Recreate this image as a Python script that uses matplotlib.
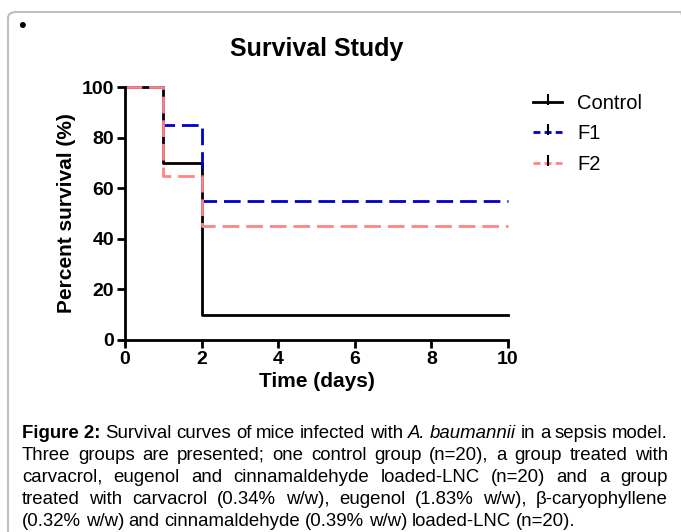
import matplotlib
matplotlib.use("Agg")
import matplotlib.pyplot as plt
from matplotlib.lines import Line2D
from matplotlib.patches import FancyBboxPatch
from matplotlib.path import Path

# survival data (step curves, % alive)
days = [0, 1, 2, 10]
control = [100, 70, 10, 10]
f1 = [100, 85, 55, 55]
f2 = [100, 65, 45, 45]
groups = ["Control", "F1", "F2"]
xticks = [0, 2, 4, 6, 8, 10]
yticks = [0, 20, 40, 60, 80, 100]

caption = [
    [("Figure 2:", "b"), ("Survival", "n"), ("curves", "n"), ("of", "n"), ("mice", "n"), ("infected", "n"),
     ("with", "n"), ("A.", "i"), ("baumannii", "i"), ("in", "n"), ("a", "n"), ("sepsis", "n"), ("model.", "n")],
    "Three groups are presented; one control group (n=20), a group treated with",
    "carvacrol, eugenol and cinnamaldehyde loaded-LNC (n=20) and a group",
    "treated with carvacrol (0.34% w/w), eugenol (1.83% w/w), \u03b2-caryophyllene",
    "(0.32% w/w) and cinnamaldehyde (0.39% w/w) loaded-LNC (n=20).",
]

plt.rcParams['font.family'] = ['Liberation Sans', 'DejaVu Sans']

W, H = 681, 532
fig = plt.figure(figsize=(W/100, H/100), dpi=100)

# frame around the figure
box = FancyBboxPatch((8/W, -0.05), 1.0, 1.05 - 12/H, boxstyle="round,pad=0,rounding_size=0.012",
                     transform=fig.transFigure, fill=False, edgecolor="#c0c0c0", linewidth=1.5)
fig.patches.append(box)
fig.text(18/W, 1-27/H, "\u2022", fontsize=16, va="center", ha="left")

ax = fig.add_axes([125/W, 1-340/H, (508-125)/W, (340-87)/H])
dash = (0, (6, 2.5))
ax.step(days, control, where="post", color="black", lw=2, label="Control", clip_on=False)
ax.step(days, f1, where="post", color="#0000c8", lw=2, ls=dash, label="F1", clip_on=False)
ax.step(days, f2, where="post", color="#ff8484", lw=2, ls=dash, label="F2", clip_on=False)

ax.set_xlim(0, 10)
ax.set_ylim(0, 100)
ax.set_xticks(xticks)
ax.set_yticks(yticks)
for s in ["top", "right"]:
    ax.spines[s].set_visible(False)
for s in ["left", "bottom"]:
    ax.spines[s].set_linewidth(2)
ax.tick_params(width=2, length=6, labelsize=14, pad=2)
for lbl in ax.get_xticklabels() + ax.get_yticklabels():
    lbl.set_fontweight("bold")
ax.set_title("Survival Study", fontsize=18, fontweight="bold", pad=22)
ax.set_xlabel("Time (days)", fontsize=15, fontweight="bold", labelpad=3)
ax.set_ylabel("Percent survival (%)", fontsize=15, fontweight="bold", labelpad=4)

# censor-tick style marker: short vertical stroke, mostly above the line
tick = Path([(0, -0.3), (0, 1)], [Path.MOVETO, Path.LINETO])
handles = [
    Line2D([], [], color="black", lw=2, marker=tick, ms=12, mec="black", mew=1.5),
    Line2D([], [], color="#0000c8", lw=2, ls=(0, (2.5, 1.5)), marker=tick, ms=12, mec="black", mew=1.5),
    Line2D([], [], color="#ff8484", lw=2, ls=(0, (2.5, 1.5)), marker=tick, ms=12, mec="black", mew=1.5),
]
ax.legend(handles, groups, loc="upper left", bbox_to_anchor=(533/W, 1-94/H), bbox_transform=fig.transFigure,
          frameon=False, fontsize=14.5, handlelength=1.45, handletextpad=0.75, labelspacing=0.57,
          borderpad=0, borderaxespad=0)

# justified caption
renderer = fig.canvas.get_renderer()
cap_font = ['Liberation Sans Narrow', 'Liberation Sans', 'DejaVu Sans']
cap_size = 13.4
x0, x1 = 22, 668
y = 433
for i, line in enumerate(caption):
    if isinstance(line, str):
        words = [(w, "n") for w in line.split()]
    else:
        words = line
    texts = []
    for w, st in words:
        t = fig.text(0, 0, w, fontsize=cap_size, family=cap_font,
                     fontweight="bold" if st == "b" else "normal",
                     fontstyle="italic" if st == "i" else "normal", va="center", ha="left")
        texts.append(t)
    widths = [t.get_window_extent(renderer).width for t in texts]
    if i == len(caption) - 1:
        gap = renderer.points_to_pixels(cap_size) * 0.25
    else:
        gap = (x1 - x0 - sum(widths)) / (len(words) - 1)
    x = x0
    for t, wd in zip(texts, widths):
        t.set_position((x/W, 1-y/H))
        x += wd + gap
    y += 22

fig.savefig("out.png", dpi=100)
